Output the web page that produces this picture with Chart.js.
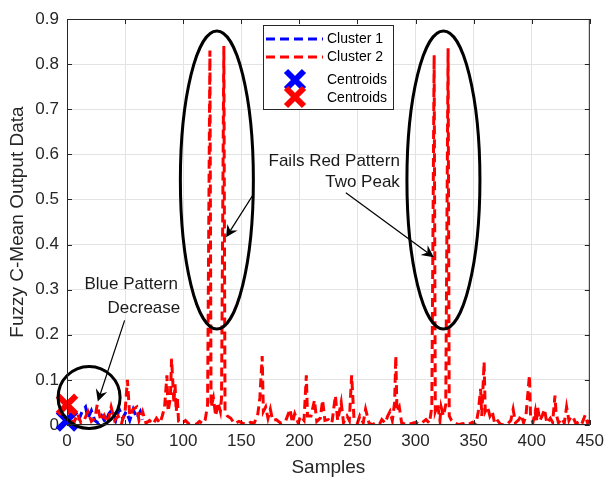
<!DOCTYPE html>
<html>
<head>
<meta charset="utf-8">
<script src="https://cdn.jsdelivr.net/npm/chart.js@4.4.1/dist/chart.umd.min.js"></script>
<style>
  html, body { margin: 0; padding: 0; background: #fff; }
  canvas { display: block; }
</style>
</head>
<body>
<canvas id="fcm-chart" width="610" height="486"></canvas>
<script>
// Cluster 1 (blue) samples and membership output
const cluster1Samples = [10, 13, 16, 18, 21, 24, 27, 30, 33, 36, 39, 42, 45, 48, 51, 54, 57, 60, 63, 65];
const cluster1Values = [0.01, 0.03, 0.04, 0.015, 0.032, 0.01, 0.004, 0.02, 0.006, 0.025, 0.035, 0.01, 0.035, 0.015, 0.03, 0.01, 0.035, 0.015, 0.03, 0.012];

// Cluster 2 (red) samples and membership output
const cluster2Samples = [
  0, 3, 6, 9, 12, 15, 18, 21, 24, 26, 29, 32, 35, 38, 41, 44, 47, 50, 52, 54,
  57, 60, 62, 65, 68, 71, 74, 77, 80, 82, 84, 86, 87, 89, 90, 92, 93, 94, 95, 96,
  99, 102, 105, 108, 111, 114, 117, 119, 121, 123, 124, 126, 128, 130, 132, 133, 135, 136, 138, 141,
  144, 148, 151, 155, 158, 161, 164, 166, 168, 169, 171, 173, 175, 177, 180, 184, 188, 192, 194, 196,
  199, 201, 204, 206, 207, 210, 213, 215, 218, 220, 222, 225, 228, 231, 233, 236, 238, 241, 243, 245,
  247, 250, 252, 255, 257, 260, 263, 266, 269, 271, 274, 276, 278, 280, 282, 283, 284, 286, 288, 291,
  293, 296, 300, 304, 309, 312, 314, 316, 317, 319, 321, 322, 324, 326, 328, 329, 331, 333, 337, 341,
  343, 346, 349, 352, 354, 356, 357, 359, 360, 362, 364, 366, 368, 370, 373, 376, 379, 382, 384, 386,
  389, 391, 393, 395, 398, 399, 401, 403, 404, 405, 407, 409, 411, 413, 416, 418, 420, 421, 423, 426,
  428, 430, 432, 434, 436, 438, 441, 443, 446, 448, 450
];
const cluster2Values = [
  0.04, 0.02, 0.005, 0.025, 0.005, 0.012, 0.03, 0.008, 0.015, 0.045, 0.01, 0.022, 0.004, 0.04, 0.01, 0.02, 0.004, 0.03, 0.1, 0.02,
  0.035, 0.04, 0.01, 0.03, 0.004, 0.01, 0.002, 0.015, 0.004, 0.02, 0.04, 0.11, 0.03, 0.06, 0.147, 0.05, 0.09, 0.03, 0.06, 0.008,
  0.004, 0.01, 0.002, 0.005, 0.001, 0.008, 0.003, 0.012, 0.045, 0.83, 0.04, 0.06, 0.02, 0.05, 0.03, 0.06, 0.84, 0.03, 0.02, 0.015,
  0.003, 0.008, 0.004, 0.001, 0.006, 0.004, 0.02, 0.06, 0.153, 0.03, 0.04, 0.015, 0.035, 0.01, 0.012, 0.004, 0.008, 0.035, 0.005, 0.025,
  0.004, 0.02, 0.01, 0.11, 0.02, 0.02, 0.055, 0.008, 0.015, 0.055, 0.01, 0.012, 0.004, 0.065, 0.01, 0.05, 0.005, 0.02, 0.01, 0.11,
  0.015, 0.004, 0.02, 0.005, 0.035, 0.004, 0.001, 0.005, 0.002, 0.012, 0.004, 0.02, 0.03, 0.01, 0.05, 0.153, 0.03, 0.04, 0.005, 0.002,
  0.0, 0.003, 0.006, 0.002, 0.012, 0.004, 0.04, 0.82, 0.03, 0.045, 0.01, 0.04, 0.02, 0.045, 0.835, 0.02, 0.01, 0.005, 0.001, 0.003,
  0.0, 0.002, 0.006, 0.001, 0.03, 0.08, 0.02, 0.14, 0.03, 0.04, 0.02, 0.03, 0.005, 0.012, 0.002, 0.0, 0.002, 0.01, 0.035, 0.005,
  0.012, 0.022, 0.005, 0.02, 0.11, 0.02, 0.005, 0.03, 0.005, 0.04, 0.01, 0.02, 0.035, 0.004, 0.015, 0.006, 0.065, 0.025, 0.005, 0.015,
  0.004, 0.04, 0.01, 0.02, 0.015, 0.003, 0.008, 0.002, 0.022, 0.005, 0.01
];

// Cluster centres
const centroid1 = [0, 0.01];
const centroid2 = [0, 0.045];

const legendLabels = ['Cluster 1', 'Cluster 2', 'Centroids', 'Centroids'];

const BLUE = '#0000ff';
const RED = '#ff0000';
const INK = '#262626';
const FONT = '"Liberation Sans", Arial, sans-serif';

function toPoints(xs, ys) {
  return xs.map((x, i) => ({ x: x, y: ys[i] }));
}

// Draw an arrow with a notched head, like the MATLAB annotation arrow
function drawArrow(ctx, x1, y1, x2, y2) {
  const ang = Math.atan2(y2 - y1, x2 - x1);
  const len = 12, half = 6, notch = 8;
  ctx.save();
  ctx.strokeStyle = '#000';
  ctx.fillStyle = '#000';
  ctx.lineWidth = 1.2;
  ctx.beginPath();
  ctx.moveTo(x1, y1);
  ctx.lineTo(x2 - Math.cos(ang) * notch, y2 - Math.sin(ang) * notch);
  ctx.stroke();
  const bx = x2 - Math.cos(ang) * len, by = y2 - Math.sin(ang) * len;
  const nx = -Math.sin(ang), ny = Math.cos(ang);
  ctx.beginPath();
  ctx.moveTo(x2, y2);
  ctx.lineTo(bx + nx * half, by + ny * half);
  ctx.lineTo(x2 - Math.cos(ang) * notch, y2 - Math.sin(ang) * notch);
  ctx.lineTo(bx - nx * half, by - ny * half);
  ctx.closePath();
  ctx.fill();
  ctx.restore();
}

function drawCross(ctx, x, y, color) {
  ctx.save();
  ctx.strokeStyle = color;
  ctx.lineWidth = 6;
  ctx.beginPath();
  ctx.moveTo(x - 9, y - 9);
  ctx.lineTo(x + 9, y + 9);
  ctx.moveTo(x + 9, y - 9);
  ctx.lineTo(x - 9, y + 9);
  ctx.stroke();
  ctx.restore();
}

// Ellipses, arrows and notes over the data
const annotationPlugin = {
  id: 'notes',
  afterDatasetsDraw(chart) {
    const ctx = chart.ctx;
    const xs = chart.scales.x, ys = chart.scales.y;
    const px = (v) => xs.getPixelForValue(v);
    const py = (v) => ys.getPixelForValue(v);

    ctx.save();
    ctx.strokeStyle = '#000';
    ctx.lineWidth = 3;
    [[129, 0.543], [324, 0.543]].forEach(([cx, cy]) => {
      ctx.beginPath();
      ctx.ellipse(px(cx), py(cy), 36.5, 149, 0, 0, Math.PI * 2);
      ctx.stroke();
    });
    ctx.beginPath();
    ctx.arc(px(19), py(0.061), 31, 0, Math.PI * 2);
    ctx.stroke();
    ctx.restore();

    drawArrow(ctx, px(160.8), py(0.513), px(136.9), py(0.416));
    drawArrow(ctx, px(240), py(0.515), px(315.7), py(0.372));
    drawArrow(ctx, px(49.6), py(0.232), px(26.5), py(0.052));

    ctx.save();
    ctx.fillStyle = '#1a1a1a';
    ctx.font = '17px ' + FONT;
    ctx.textAlign = 'right';
    ctx.textBaseline = 'middle';
    ctx.fillText('Fails Red Pattern', px(286.5), py(0.584));
    ctx.fillText('Two Peak', px(286.5), py(0.537));
    ctx.fillText('Blue Pattern', px(95.5), py(0.312));
    ctx.fillText('Decrease', px(97.5), py(0.258));
    ctx.restore();
  },
  afterDraw(chart) {
    const ctx = chart.ctx;
    const a = chart.chartArea;
    const xs = chart.scales.x, ys = chart.scales.y;

    // Axes box with inward ticks on all four sides
    ctx.save();
    ctx.strokeStyle = INK;
    ctx.lineWidth = 1;
    ctx.strokeRect(a.left + 0.5, a.top + 0.5, a.right - a.left - 1, a.bottom - a.top - 1);
    ctx.beginPath();
    xs.ticks.forEach((t) => {
      const x = Math.round(xs.getPixelForValue(t.value)) + 0.5;
      ctx.moveTo(x, a.bottom);
      ctx.lineTo(x, a.bottom - 5);
      ctx.moveTo(x, a.top);
      ctx.lineTo(x, a.top + 5);
    });
    ys.ticks.forEach((t) => {
      const y = Math.round(ys.getPixelForValue(t.value)) + 0.5;
      ctx.moveTo(a.left, y);
      ctx.lineTo(a.left + 5, y);
      ctx.moveTo(a.right, y);
      ctx.lineTo(a.right - 5, y);
    });
    ctx.stroke();
    ctx.restore();

    // Legend box
    const lx = a.left + 196, ly = a.top + 6, lw = 130, lh = 84;
    ctx.save();
    ctx.fillStyle = '#fff';
    ctx.fillRect(lx, ly, lw, lh);
    ctx.strokeStyle = INK;
    ctx.lineWidth = 1;
    ctx.strokeRect(lx + 0.5, ly + 0.5, lw, lh);
    const rows = [14, 32, 55, 73];
    ctx.lineWidth = 3;
    ctx.setLineDash([9, 5]);
    [BLUE, RED].forEach((c, i) => {
      ctx.strokeStyle = c;
      ctx.beginPath();
      ctx.moveTo(lx + 3, ly + rows[i]);
      ctx.lineTo(lx + 60, ly + rows[i]);
      ctx.stroke();
    });
    ctx.setLineDash([]);
    drawCross(ctx, lx + 32, ly + rows[2], BLUE);
    drawCross(ctx, lx + 32, ly + rows[3] - 1, RED);
    ctx.fillStyle = '#000';
    ctx.font = '14px ' + FONT;
    ctx.textBaseline = 'middle';
    legendLabels.forEach((label, i) => {
      ctx.fillText(label, lx + 64, ly + rows[i]);
    });
    ctx.restore();
  }
};

const chart = new Chart(document.getElementById('fcm-chart').getContext('2d'), {
  type: 'scatter',
  data: {
    datasets: [
      {
        label: 'Cluster 1',
        data: toPoints(cluster1Samples, cluster1Values),
        showLine: true,
        borderColor: BLUE,
        borderWidth: 3,
        borderDash: [9, 5],
        pointRadius: 0,
        order: 4
      },
      {
        label: 'Cluster 2',
        data: toPoints(cluster2Samples, cluster2Values),
        showLine: true,
        borderColor: RED,
        borderWidth: 3,
        borderDash: [9, 5],
        pointRadius: 0,
        order: 3
      },
      {
        label: 'Centroids',
        data: [{ x: centroid1[0], y: centroid1[1] }],
        pointStyle: 'crossRot',
        pointRadius: 13,
        pointBorderWidth: 6,
        borderColor: BLUE,
        backgroundColor: BLUE,
        clip: false,
        order: 2
      },
      {
        label: 'Centroids',
        data: [{ x: centroid2[0], y: centroid2[1] }],
        pointStyle: 'crossRot',
        pointRadius: 13,
        pointBorderWidth: 6,
        borderColor: RED,
        backgroundColor: RED,
        clip: false,
        order: 1
      }
    ]
  },
  options: {
    responsive: false,
    animation: false,
    devicePixelRatio: 1,
    layout: { padding: { left: 0, right: 16, top: 9, bottom: 0 } },
    plugins: { legend: { display: false }, tooltip: { enabled: false } },
    scales: {
      x: {
        type: 'linear',
        min: 0,
        max: 450,
        afterFit: (s) => { s.height = 61; },
        grid: { color: '#e3e3e3', drawTicks: false },
        border: { display: false },
        ticks: { stepSize: 50, color: INK, padding: 6, maxRotation: 0, font: { family: FONT, size: 17 } },
        title: { display: true, text: 'Samples', color: INK, padding: { top: 0, bottom: 7 }, font: { family: FONT, size: 19 } }
      },
      y: {
        min: 0,
        max: 0.9,
        afterFit: (s) => { s.width = 67; },
        grid: { color: '#e3e3e3', drawTicks: false },
        border: { display: false },
        ticks: { stepSize: 0.1, color: INK, padding: 8, font: { family: FONT, size: 17 } },
        title: { display: true, text: 'Fuzzy C-Mean Output Data', color: INK, padding: { top: 6, bottom: 0 }, font: { family: FONT, size: 19 } }
      }
    }
  },
  plugins: [annotationPlugin]
});
</script>
</body>
</html>
